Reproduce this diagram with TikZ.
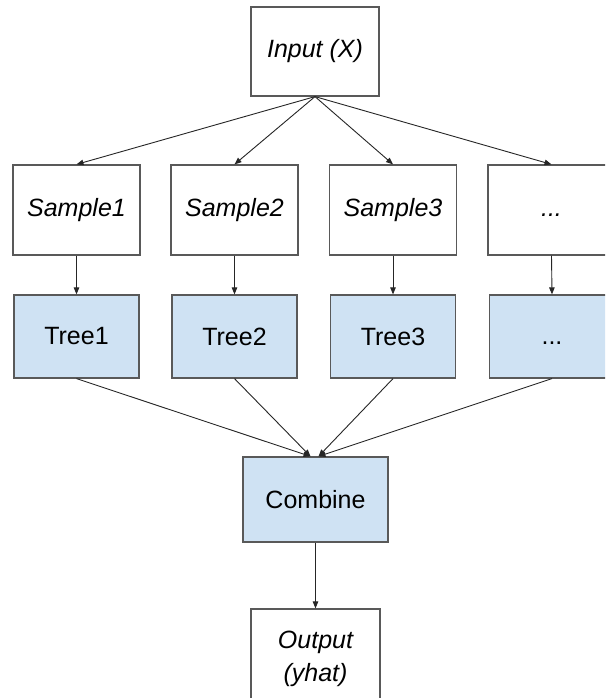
\documentclass[tikz,border=0pt]{standalone}
\usepackage{fontspec}
\setmainfont{Liberation Sans}
\usetikzlibrary{arrows.meta,calc}
\definecolor{boxline}{HTML}{595959}
\definecolor{treefill}{HTML}{CFE2F3}
\definecolor{arrowline}{HTML}{262626}
\begin{document}
\begin{tikzpicture}[x=1pt,y=-1pt,
  box/.style={draw=boxline, line width=1.2pt, fill=white, rectangle,
    inner sep=0pt, font=\fontsize{25}{33}\selectfont, align=center},
  databox/.style={box, font=\fontsize{25}{33}\selectfont\itshape},
  treebox/.style={box, fill=treefill},
  link/.style={draw=arrowline, line width=0.9pt,
    -{Triangle[length=7pt,width=5.5pt]}}]
\useasboundingbox (0,0) rectangle (605,698);
\clip (0,0) rectangle (605,698);
\fill[white] (0,0) rectangle (605,698);

% input
\node[databox, minimum width=128pt, minimum height=89pt] (in) at (315,51.5) {Input (X)};

% bootstrap samples
\node[databox, minimum width=127pt, minimum height=90pt] (s1) at (76.5,210) {Sample1};
\node[databox, minimum width=127pt, minimum height=90pt] (s2) at (234.5,210) {Sample2};
\node[databox, minimum width=127pt, minimum height=90pt] (s3) at (393,210) {Sample3};
\node[databox, minimum width=127pt, minimum height=90pt] (s4) at (551.5,210) {\vphantom{Sample}...};

% trees
\node[treebox, minimum width=125pt, minimum height=83pt] (t1) at (76.5,336.5) {Tree1};
\node[treebox, minimum width=125pt, minimum height=83pt] (t2) at (234.5,336.5) {Tree2};
\node[treebox, minimum width=125pt, minimum height=83pt] (t3) at (393,336.5) {Tree3};
\node[treebox, minimum width=125pt, minimum height=83pt] (t4) at (552,336.5) {\vphantom{Tree}...};

% aggregation and result
\node[treebox, minimum width=145pt, minimum height=85pt] (comb) at (315.5,499.5) {Combine};
\node[databox, minimum width=129pt, minimum height=100pt] (out) at (315.5,659) {Output\\(yhat)};

\coordinate (cl) at ($(comb.north)+(-5,0)$);
\coordinate (cr) at ($(comb.north)+(3,0)$);

% connectors
\foreach \s in {s1,s2,s3,s4} \draw[link] (in.south) -- (\s.north);
\foreach \i in {1,2,3,4} \draw[link] (s\i.south) -- (t\i.north);
\draw[link] (t1.south) -- (cl);
\draw[link] (t2.south) -- (cl);
\draw[link] (t3.south) -- (cr);
\draw[link] (t4.south) -- (cr);
\draw[link] (comb.south) -- (out.north);
\end{tikzpicture}
\end{document}
